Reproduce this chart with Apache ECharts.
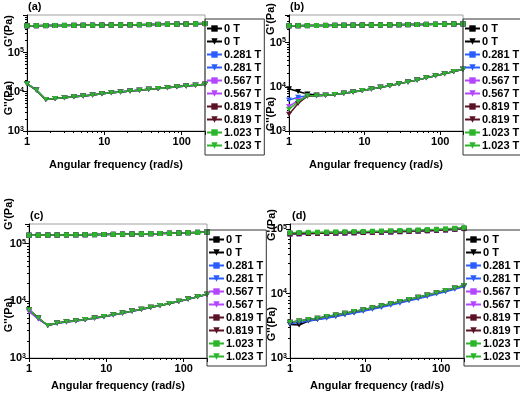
<!DOCTYPE html>
<html><head><meta charset="utf-8">
<script src="https://cdn.jsdelivr.net/npm/echarts@6/dist/echarts.min.js"></script>
<style>html,body{margin:0;padding:0;background:#fff}#c{width:520px;height:398px}</style>
</head><body><div id="c"></div>
<script>
const freq = [1, 1.32, 1.75, 2.31, 3.05, 4.03, 5.32, 7.04, 9.3, 12.3, 16.2, 21.5, 28.4, 37.5, 49.5, 65.4, 86.5, 114, 151, 200];
const fields = ['0 T', '0.281 T', '0.567 T', '0.819 T', '1.023 T'];
const fieldColors = ['#000000', '#2b5cff', '#b347ff', '#5a1226', '#2cb52c'];
const panelLabels = ['(a)', '(b)', '(c)', '(d)'];
const xTitle = 'Angular frequency (rad/s)';
const xMinorTicks = [2, 3, 4, 5, 6, 7, 8, 9, 20, 30, 40, 50, 60, 70, 80, 90];
const yMinorTicks = [2000, 3000, 4000, 5000, 6000, 7000, 8000, 9000, 20000, 30000, 40000, 50000, 60000, 70000, 80000, 90000, 200000, 300000, 400000, 500000, 600000, 700000, 800000];

// Panel (a)
const a_Gp = [480000,482000,484000,486000,488000,490000,492000,494000,497000,500000,503000,506000,510000,514000,518000,522000,527000,532000,538000,545000];
const a_Gpp = [16000,11000,6300,6700,7000,7400,7800,8300,8900,9400,9900,10400,10900,11500,12100,12700,13300,14000,14700,15400];

// Panel (b)
const b_Gp = [240000,241000,242000,243000,244000,245000,246000,247000,248000,249000,250000,251500,253000,254500,256000,257500,259000,261000,263000,265000];
const b_Gpp_0 = [9000,7800,6900,6500,6400,6700,7100,7600,8200,8900,9700,10600,11700,12900,14300,15900,17700,19800,22200,25000];
const b_Gpp_281 = [5000,5800,6300,6300,6400,6700,7100,7600,8200,8900,9700,10600,11700,12900,14300,15900,17700,19800,22200,25000];
const b_Gpp_567 = [3600,4900,6200,6300,6400,6700,7100,7600,8200,8900,9700,10600,11700,12900,14300,15900,17700,19800,22200,25000];
const b_Gpp_819 = [2400,4200,6100,6300,6400,6700,7100,7600,8200,8900,9700,10600,11700,12900,14300,15900,17700,19800,22200,25000];
const b_Gpp_1023 = [3100,4600,6300,6300,6400,6700,7100,7600,8200,8900,9700,10600,11700,12900,14300,15900,17700,19800,22200,25000];

// Panel (c)
const c_Gp = [140000,140500,141000,141500,142000,142500,143000,143500,144000,145000,146000,147000,148000,149000,150000,151500,153000,155000,157000,159000];
const c_Gpp = [7000,5000,3700,4100,4300,4500,4700,5000,5300,5700,6100,6600,7100,7700,8300,9000,9800,10700,11800,13000];
const c_Gpp_low = [6500,4800,3700,4050,4250,4450,4650,4950,5250,5650,6050,6550,7050,7650,8250,8950,9750,10650,11750,12900];

// Panel (d)
const d_Gp = [88000,88500,89000,89500,90000,90500,91000,91500,92000,92700,93400,94200,95000,96000,97000,98200,99500,101000,103000,105500];
const d_Gp_low = [84500,85000,85500,86000,86500,87000,87500,88000,88500,89200,89900,90700,91500,92500,93500,94700,96000,97500,99500,102000];
const d_Gpp = [3600,3750,3950,4150,4400,4650,4950,5250,5600,6000,6450,6950,7500,8100,8750,9500,10300,11200,12200,13300];
const d_Gpp_blue = [3400,3550,3750,3950,4150,4400,4700,5000,5300,5700,6100,6600,7100,7700,8300,9000,9800,10700,11700,12800];
const d_Gpp_black = [3300,3250,3750,3950,4200,4450,4750,5050,5400,5800,6250,6750,7300,7900,8550,9300,10100,11000,12000,13100];

const panels = [
  { Gp: [a_Gp, a_Gp, a_Gp, a_Gp, a_Gp], Gpp: [a_Gpp, a_Gpp, a_Gpp, a_Gpp, a_Gpp], ymax: 900000 },
  { Gp: [b_Gp, b_Gp, b_Gp, b_Gp, b_Gp], Gpp: [b_Gpp_0, b_Gpp_281, b_Gpp_567, b_Gpp_819, b_Gpp_1023], ymax: 420000 },
  { Gp: [c_Gp, c_Gp, c_Gp, c_Gp, c_Gp], Gpp: [c_Gpp, c_Gpp_low, c_Gpp_low, c_Gpp, c_Gpp], ymax: 220000 },
  { Gp: [d_Gp_low, d_Gp_low, d_Gp_low, d_Gp_low, d_Gp], Gpp: [d_Gpp_black, d_Gpp_blue, d_Gpp, d_Gpp, d_Gpp], ymax: 120000 }
];

const layout = [
  { left: 27, top: 15, width: 178, height: 116, nameGap: 28, legL: 205, legT: 19, labX: 28, labY: 1, gpY: 31, gppY: 98, nameX: 9 },
  { left: 289, top: 15, width: 174, height: 116, nameGap: 28, legL: 463, legT: 19, labX: 290, labY: 1, gpY: 19, gppY: 114, nameX: 271 },
  { left: 29, top: 224, width: 178, height: 134, nameGap: 22, legL: 207, legT: 230, labX: 30, labY: 210, gpY: 214, gppY: 315, nameX: 9 },
  { left: 290, top: 224, width: 174, height: 134, nameGap: 22, legL: 464, legT: 230, labX: 292, labY: 210, gpY: 225, gppY: 324, nameX: 272 }
];

const FONT = 'Liberation Sans, Arial, sans-serif';
const downTri = 'path://M0,0L10,0L5,8.66Z';

function isPow10(v) { const l = Math.log10(v); return Math.abs(l - Math.round(l)) < 1e-6; }

const grids = [], xAxes = [], yAxes = [], series = [], legends = [], graphics = [];
const xMinorAxes = [], yMinorAxes = [];
panels.forEach((p, i) => {
  const L = layout[i];
  grids.push({ left: L.left, top: L.top, width: L.width, height: L.height, show: true, borderColor: '#a0a0a0', borderWidth: 1, containLabel: false });
  xAxes.push({
    type: 'log', gridIndex: i, min: 1, max: 200, logBase: 10,
    name: xTitle, nameLocation: 'middle', nameGap: L.nameGap,
    nameTextStyle: { fontFamily: FONT, fontWeight: 'bold', fontSize: 11, color: '#000' },
    axisLine: { lineStyle: { color: '#000', width: 1 } },
    axisTick: { inside: false, length: 4, lineStyle: { color: '#000' } },
    splitLine: { show: false },
    axisLabel: { fontFamily: FONT, fontWeight: 'bold', fontSize: 11, color: '#000', margin: 5,
      formatter: v => isPow10(v) ? String(Math.round(v)) : '' }
  });
  xMinorAxes.push({
    type: 'log', gridIndex: i, min: 1, max: 200, logBase: 10, position: 'bottom',
    axisLine: { show: false }, splitLine: { show: false }, axisLabel: { show: false },
    axisTick: { show: true, length: 2, customValues: xMinorTicks, lineStyle: { color: '#000' } }
  });
  yAxes.push({
    type: 'log', gridIndex: i, min: 1000, max: p.ymax, logBase: 10,
    axisLine: { lineStyle: { color: '#000', width: 1 } },
    axisTick: { inside: false, length: 4, lineStyle: { color: '#000' } },
    splitLine: { show: false },
    axisLabel: { margin: 3, color: '#000',
      formatter: v => isPow10(v) ? '{m|10}{s|' + Math.round(Math.log10(v)) + '}' : '',
      rich: {
        m: { fontFamily: FONT, fontWeight: 'bold', fontSize: 11, color: '#000' },
        s: { fontFamily: FONT, fontWeight: 'bold', fontSize: 7, color: '#000', verticalAlign: 'top', lineHeight: 7 }
      }
    }
  });
  yMinorAxes.push({
    type: 'log', gridIndex: i, min: 1000, max: p.ymax, logBase: 10, position: 'left',
    axisLine: { show: false }, splitLine: { show: false }, axisLabel: { show: false },
    axisTick: { show: true, length: 2, customValues: yMinorTicks.filter(v => v < p.ymax), lineStyle: { color: '#000' } }
  });
  const legendNames = [];
  fields.forEach((f, k) => {
    const nGp = f + '\u200b'.repeat(i * 2 + 1);
    const nGpp = f + '\u200b'.repeat(i * 2 + 2);
    legendNames.push(nGp, nGpp);
    series.push({
      type: 'line', name: nGp, xAxisIndex: i, yAxisIndex: i,
      data: freq.map((x, j) => [x, p.Gp[k][j]]),
      symbol: 'rect', symbolSize: 5, color: fieldColors[k],
      lineStyle: { width: 1.5 }, animation: false
    });
    series.push({
      type: 'line', name: nGpp, xAxisIndex: i, yAxisIndex: i,
      data: freq.map((x, j) => [x, p.Gpp[k][j]]),
      symbol: downTri, symbolSize: [6, 5], color: fieldColors[k],
      lineStyle: { width: 1.5 }, animation: false
    });
  });
  legends.push({
    data: legendNames, orient: 'vertical', left: L.legL, top: L.legT,
    itemWidth: 15, itemHeight: 8, itemGap: 2,
    padding: [4, 3, 4, 1], borderColor: '#333', borderWidth: 1,
    selectedMode: false,
    formatter: n => n.replace(/\u200b/g, ''),
    textStyle: { fontFamily: FONT, fontWeight: 'bold', fontSize: 11, color: '#000', lineHeight: 11, padding: [0, 0, 0, -3] }
  });
  graphics.push({ type: 'text', left: L.labX, top: L.labY,
    style: { text: panelLabels[i], font: 'bold 11px ' + FONT, fill: '#000' } });
  graphics.push({ type: 'text', x: L.nameX, y: L.gpY, rotation: Math.PI / 2,
    style: { text: "G'(Pa)", font: 'bold 11px ' + FONT, fill: '#000', align: 'center', verticalAlign: 'middle' } });
  graphics.push({ type: 'text', x: L.nameX, y: L.gppY, rotation: Math.PI / 2,
    style: { text: "G''(Pa)", font: 'bold 11px ' + FONT, fill: '#000', align: 'center', verticalAlign: 'middle' } });
});

const chart = echarts.init(document.getElementById('c'), null, { renderer: 'canvas' });
chart.setOption({
  animation: false,
  backgroundColor: '#fff',
  grid: grids,
  xAxis: xAxes.concat(xMinorAxes),
  yAxis: yAxes.concat(yMinorAxes),
  series: series, legend: legends, graphic: graphics
});
</script>
</body></html>
